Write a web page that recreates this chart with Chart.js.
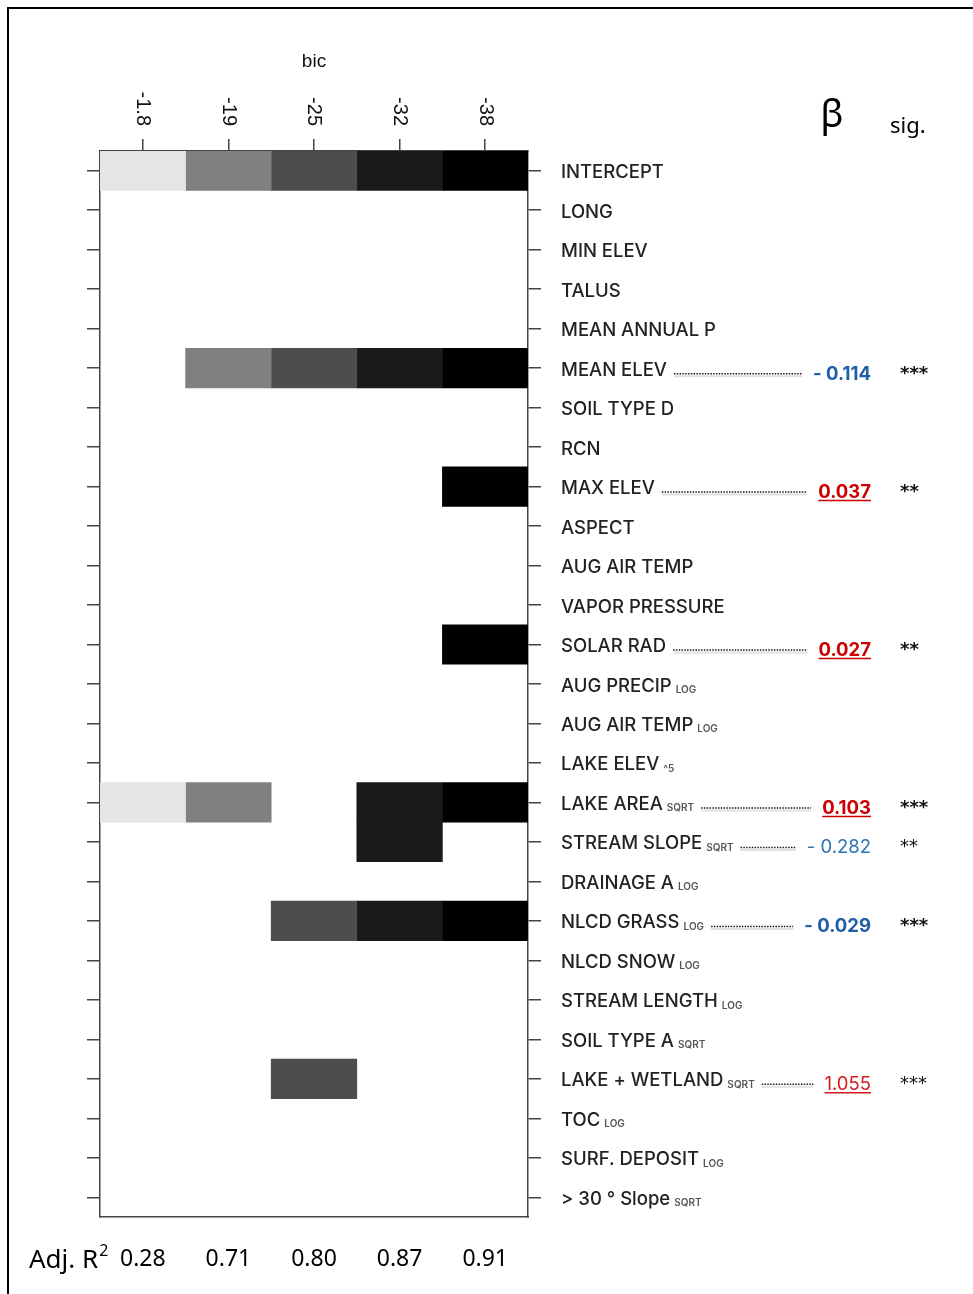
<!DOCTYPE html>
<html>
<head>
<meta charset="utf-8">
<title>Best subsets by BIC</title>
<script src="https://cdn.jsdelivr.net/npm/chart.js@4.4.1/dist/chart.umd.min.js"></script>
<style>
  html, body { margin: 0; padding: 0; background: #fff; }
  #wrap { width: 973px; height: 1294px; position: relative; }
</style>
</head>
<body>
<div id="wrap"><canvas id="c" width="973" height="1294"></canvas></div>
<script>
// ---- data -----------------------------------------------------------------
// BIC of each candidate model (one column each), best model on the right
const bicValues = ['-1.8', '-19', '-25', '-32', '-38'];
// adjusted R-squared of the same models
const adjR2 = ['0.28', '0.71', '0.80', '0.87', '0.91'];

// candidate predictors (rows) and the transform applied to each
const predictors = [
  'INTERCEPT', 'LONG', 'MIN ELEV', 'TALUS', 'MEAN ANNUAL P', 'MEAN ELEV',
  'SOIL TYPE D', 'RCN', 'MAX ELEV', 'ASPECT', 'AUG AIR TEMP', 'VAPOR PRESSURE',
  'SOLAR RAD', 'AUG PRECIP', 'AUG AIR TEMP', 'LAKE ELEV', 'LAKE AREA',
  'STREAM SLOPE', 'DRAINAGE A', 'NLCD GRASS', 'NLCD SNOW', 'STREAM LENGTH',
  'SOIL TYPE A', 'LAKE + WETLAND', 'TOC', 'SURF. DEPOSIT', '> 30 \u00B0 Slope'
];
const transforms = [
  '', '', '', '', '', '',
  '', '', '', '', '', '',
  '', 'LOG', 'LOG', '^5', 'SQRT',
  'SQRT', 'LOG', 'LOG', 'LOG', 'LOG',
  'SQRT', 'SQRT', 'LOG', 'LOG', 'SQRT'
];

// 1 = predictor is in the model of that BIC column
const inclusion = [
  [1, 1, 1, 1, 1], // INTERCEPT
  [0, 0, 0, 0, 0], // LONG
  [0, 0, 0, 0, 0], // MIN ELEV
  [0, 0, 0, 0, 0], // TALUS
  [0, 0, 0, 0, 0], // MEAN ANNUAL P
  [0, 1, 1, 1, 1], // MEAN ELEV
  [0, 0, 0, 0, 0], // SOIL TYPE D
  [0, 0, 0, 0, 0], // RCN
  [0, 0, 0, 0, 1], // MAX ELEV
  [0, 0, 0, 0, 0], // ASPECT
  [0, 0, 0, 0, 0], // AUG AIR TEMP
  [0, 0, 0, 0, 0], // VAPOR PRESSURE
  [0, 0, 0, 0, 1], // SOLAR RAD
  [0, 0, 0, 0, 0], // AUG PRECIP
  [0, 0, 0, 0, 0], // AUG AIR TEMP (log)
  [0, 0, 0, 0, 0], // LAKE ELEV
  [1, 1, 0, 1, 1], // LAKE AREA
  [0, 0, 0, 1, 0], // STREAM SLOPE
  [0, 0, 0, 0, 0], // DRAINAGE A
  [0, 0, 1, 1, 1], // NLCD GRASS
  [0, 0, 0, 0, 0], // NLCD SNOW
  [0, 0, 0, 0, 0], // STREAM LENGTH
  [0, 0, 0, 0, 0], // SOIL TYPE A
  [0, 0, 1, 0, 0], // LAKE + WETLAND
  [0, 0, 0, 0, 0], // TOC
  [0, 0, 0, 0, 0], // SURF. DEPOSIT
  [0, 0, 0, 0, 0]  // > 30 deg Slope
];

// standardised coefficients and significance of the reported terms
const betaRows = [5, 8, 12, 16, 17, 19, 23];
const betaValues = [-0.114, 0.037, 0.027, 0.103, -0.282, -0.029, 1.055];
const betaSig = ['***', '**', '**', '***', '**', '***', '***'];

// ---- styles ---------------------------------------------------------------
const shades = ['#e5e5e5', '#808080', '#4d4d4d', '#1a1a1a', '#000000'];
const frameColor = '#444';
const betaWeight = ['bold', 'bold', 'bold', 'bold', 'normal', 'bold', 'normal'];
const labelFont = '500 18.5px Inter, "Noto Sans", sans-serif';
const subFont = '600 10px Inter, "Noto Sans", sans-serif';
const axisFont = '"Liberation Sans", Arial, sans-serif';
const noteFont = '"Noto Sans", "Open Sans", sans-serif';

const rowLabels = predictors.map((p, i) => transforms[i] ? p + ' ' + transforms[i] : p);
const tickAtColumns = scale => { scale.ticks = bicValues.map((_, j) => ({ value: j + 0.5 })); };

const datasets = bicValues.map((b, j) => ({
  label: 'BIC ' + b,
  data: inclusion.map(row => row[j] ? [j, j + 1] : null),
  backgroundColor: shades[j],
  borderWidth: 0,
  grouped: false,
  barPercentage: 1,
  categoryPercentage: 1
}));

// text drawn around the grid: axis labels, predictor names, coefficients
const annotations = {
  id: 'annotations',
  beforeDraw(chart) {
    const ctx = chart.ctx;
    ctx.save();
    ctx.fillStyle = '#fff';
    ctx.fillRect(0, 0, chart.width, chart.height);
    ctx.fillStyle = '#000';
    ctx.fillRect(7, 7, chart.width - 7, 2);
    ctx.fillRect(7, 7, 2, chart.height - 7);
    ctx.restore();
  },
  afterDraw(chart) {
    const { ctx, chartArea: area, scales } = chart;
    const xs = scales.x, ys = scales.y;
    ctx.save();

    // axis title and rotated BIC labels
    ctx.fillStyle = '#111';
    ctx.font = '19px ' + axisFont;
    ctx.textAlign = 'center';
    ctx.textBaseline = 'middle';
    ctx.fillText('bic', (area.left + area.right) / 2, area.top - 89);
    ctx.font = '20px ' + axisFont;
    bicValues.forEach((b, j) => {
      const px = xs.getPixelForValue(j + 0.5);
      ctx.save();
      ctx.translate(px, area.top - 25);
      ctx.rotate(Math.PI / 2);
      ctx.textAlign = 'right';
      ctx.textBaseline = 'middle';
      ctx.fillText(b, 0, 0);
      ctx.restore();
    });

    // predictor names with transform subscripts
    const labelX = area.right + 33;
    const labelEnd = [];
    const labelBase = [];
    predictors.forEach((name, i) => {
      const base = ys.getPixelForValue(i) + 7.5;
      ctx.textAlign = 'left';
      ctx.textBaseline = 'alphabetic';
      ctx.font = labelFont;
      ctx.fillStyle = '#222';
      ctx.fillText(name, labelX, base);
      let end = labelX + ctx.measureText(name).width;
      if (transforms[i]) {
        ctx.font = subFont;
        ctx.fillStyle = '#555';
        const sx = end + 4;
        ctx.fillText(transforms[i], sx, base + 1.5);
        end = sx + ctx.measureText(transforms[i]).width;
      }
      labelEnd[i] = end;
      labelBase[i] = base;
    });

    // column headers for coefficients
    ctx.fillStyle = '#000';
    ctx.textAlign = 'center';
    ctx.textBaseline = 'alphabetic';
    ctx.font = '38px ' + noteFont;
    ctx.fillText('\u03B2', area.right + 304, 127);
    ctx.textAlign = 'left';
    ctx.font = '22px ' + noteFont;
    ctx.fillText('sig.', area.right + 362, 133);

    // coefficients, leaders and stars
    const valueRight = area.right + 343;
    const starX = area.right + 372;
    betaRows.forEach((i, k) => {
      const v = betaValues[k];
      const py = ys.getPixelForValue(i);
      const base = py + 11.5;
      const txt = v < 0 ? '- ' + Math.abs(v).toFixed(3) : v.toFixed(3);
      const bold = betaWeight[k] === 'bold';
      ctx.font = (bold ? 'bold ' : '') + '18.5px Inter, "Noto Sans", sans-serif';
      const w = ctx.measureText(txt).width;
      const vx = valueRight - w;
      const color = v < 0 ? (bold ? '#1f5fa6' : '#2e74b5') : (bold ? '#cc0000' : '#d41a1a');
      ctx.fillStyle = color;
      ctx.textAlign = 'left';
      ctx.fillText(txt, vx, base);
      if (v > 0) {
        ctx.strokeStyle = color;
        ctx.lineWidth = 1.5;
        ctx.beginPath();
        ctx.moveTo(vx, base + 2.5);
        ctx.lineTo(valueRight, base + 2.5);
        ctx.stroke();
      }

      // dotted leader from name to value
      const x0 = labelEnd[i] + 7, x1 = vx - 11;
      const ly = labelBase[i] - 2;
      ctx.strokeStyle = 'rgba(0,0,0,0.12)';
      ctx.lineWidth = 2;
      ctx.setLineDash([]);
      ctx.beginPath();
      ctx.moveTo(x0, ly + 2.5);
      ctx.lineTo(x1, ly + 2.5);
      ctx.stroke();
      ctx.strokeStyle = '#1a1a1a';
      ctx.lineWidth = 1.5;
      ctx.setLineDash([1.5, 1.3]);
      ctx.beginPath();
      ctx.moveTo(x0, ly);
      ctx.lineTo(x1, ly);
      ctx.stroke();
      ctx.setLineDash([]);

      // significance stars, centred on the row
      ctx.font = (bold ? 'bold ' : '') + '18px "DejaVu Sans", sans-serif';
      ctx.fillStyle = '#111';
      const m = ctx.measureText(betaSig[k]);
      const sb = py + 2 + (m.actualBoundingBoxAscent - m.actualBoundingBoxDescent) / 2;
      ctx.fillText(betaSig[k], starX, sb);
    });

    // adjusted R-squared row label
    const r2y = area.bottom + 42;
    ctx.fillStyle = '#000';
    ctx.textAlign = 'left';
    ctx.textBaseline = 'alphabetic';
    ctx.font = '26px ' + noteFont;
    ctx.fillText('Adj. R', 29, r2y + 9);
    const rw = ctx.measureText('Adj. R').width;
    ctx.font = '16px ' + noteFont;
    ctx.fillText('2', 29 + rw + 1, r2y - 3);

    ctx.restore();
  }
};

new Chart(document.getElementById('c'), {
  type: 'bar',
  data: { labels: rowLabels, datasets },
  options: {
    indexAxis: 'y',
    responsive: false,
    animation: false,
    devicePixelRatio: 1,
    layout: { padding: { left: 87, right: 432, top: 139, bottom: 17 } },
    plugins: {
      legend: { display: false },
      tooltip: { enabled: false },
      title: { display: false }
    },
    scales: {
      x: {
        type: 'linear', position: 'top', min: 0, max: 5,
        afterBuildTicks: tickAtColumns,
        afterFit: s => { s.height = 12; },
        ticks: { display: false },
        grid: { drawOnChartArea: false, tickLength: 12, color: frameColor, lineWidth: 1.5 },
        border: { display: true, color: frameColor, width: 1.5 }
      },
      x2: {
        type: 'linear', position: 'bottom', min: 0, max: 5,
        afterBuildTicks: tickAtColumns,
        afterFit: s => { s.height = 60; },
        ticks: {
          callback: (v, idx) => adjR2[idx],
          font: { family: noteFont, size: 23, lineHeight: 1 },
          color: '#000', padding: 31, maxRotation: 0, minRotation: 0, autoSkip: false
        },
        grid: { display: false, drawTicks: false },
        border: { display: true, color: frameColor, width: 1.5 }
      },
      y: {
        type: 'category', position: 'left', offset: true,
        afterFit: s => { s.width = 13; },
        ticks: { display: false },
        grid: { offset: false, drawOnChartArea: false, tickLength: 13, color: frameColor, lineWidth: 1.5 },
        border: { display: true, color: frameColor, width: 1.5 }
      },
      y2: {
        type: 'category', position: 'right', offset: true, labels: rowLabels,
        afterFit: s => { s.width = 13; },
        ticks: { display: false },
        grid: { offset: false, drawOnChartArea: false, tickLength: 13, color: frameColor, lineWidth: 1.5 },
        border: { display: true, color: frameColor, width: 1.5 }
      }
    }
  },
  plugins: [annotations]
});
</script>
</body>
</html>
